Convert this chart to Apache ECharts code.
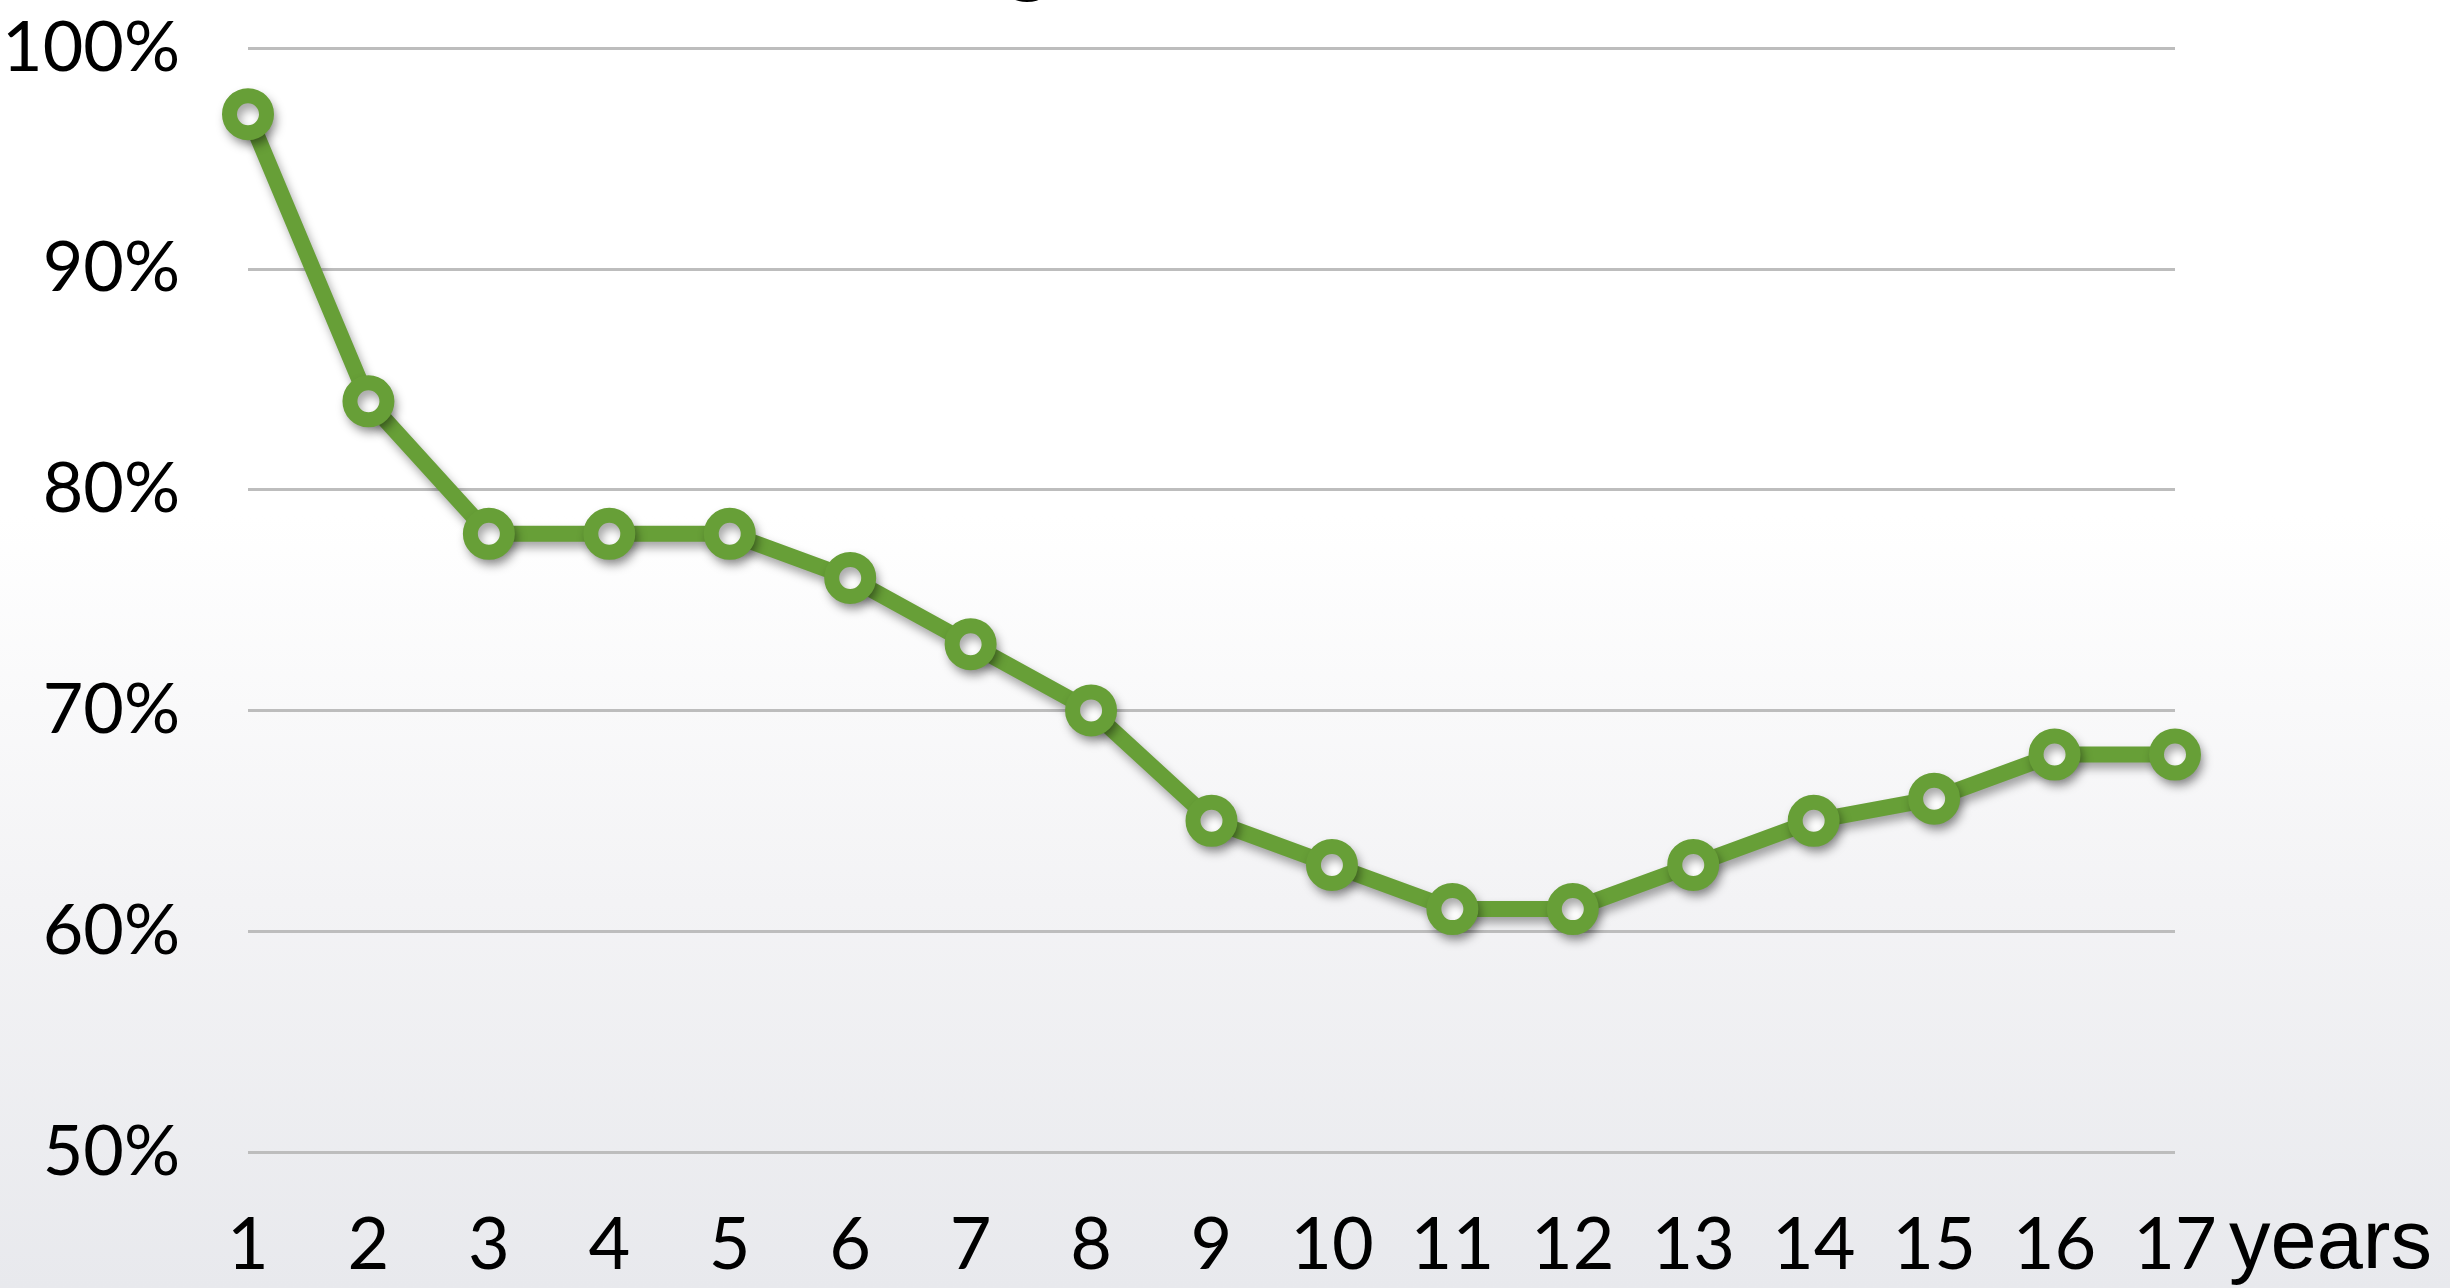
<!DOCTYPE html>
<html>
<head>
<meta charset="utf-8">
<script src="https://cdn.jsdelivr.net/npm/echarts@6/dist/echarts.min.js"></script>
<style>
  html, body { margin: 0; padding: 0; }
  #chart {
    width: 2450px;
    height: 1288px;
    background: linear-gradient(to bottom, #ffffff 0%, #ffffff 40%, #f3f3f5 70%, #e8e9ed 100%);
  }
</style>
</head>
<body>
<div id="chart"></div>
<script>
// years 1..17
const years = ['1', '2', '3', '4', '5', '6', '7', '8', '9', '10', '11', '12', '13', '14', '15', '16', '17'];
// percentage per year
const values = [97, 84, 78, 78, 78, 76, 73, 70, 65, 63, 61, 61, 63, 65, 66, 68, 68];
const yTicks = [50, 60, 70, 80, 90, 100];

const green = '#679f37';
const numFont = 'Lato';

const chart = echarts.init(document.getElementById('chart'), null, { renderer: 'canvas' });

chart.setOption({
  backgroundColor: 'transparent',
  animation: false,
  // the title sits above the picture, only the tail of its "g" shows
  graphic: [{
    type: 'text',
    left: 1000,
    top: -88,
    style: { text: 'g', fontFamily: 'Liberation Sans', fontWeight: 'bold', fontSize: 92, fill: '#000' }
  }],
  grid: { left: 248, right: 275, top: 48, bottom: 136, outerBoundsMode: 'none' },
  xAxis: {
    type: 'category',
    data: years,
    boundaryGap: false,
    axisLine: { show: false },
    axisTick: { show: false },
    axisLabel: {
      margin: 58,
      color: '#000',
      fontFamily: numFont,
      fontSize: 72,
      interval: 0
    },
    name: 'years',
    nameLocation: 'end',
    nameGap: 40,
    nameTextStyle: {
      color: '#000',
      fontFamily: 'Liberation Sans',
      fontSize: 83,
      align: 'left',
      verticalAlign: 'top',
      padding: [52, 0, 0, 14]
    }
  },
  yAxis: {
    type: 'value',
    min: yTicks[0],
    max: yTicks[yTicks.length - 1],
    interval: 10,
    axisLine: { show: false },
    axisTick: { show: false },
    axisLabel: {
      margin: 68,
      color: '#000',
      fontFamily: numFont,
      fontSize: 70,
      formatter: v => v + '%'
    },
    splitLine: { lineStyle: { color: '#bdbdbd', width: 3 } }
  },
  series: [{
    type: 'line',
    data: values,
    symbol: 'circle',
    symbolSize: 37,
    lineStyle: {
      color: green,
      width: 16,
      shadowColor: 'rgba(0,0,0,0.35)',
      shadowBlur: 10,
      shadowOffsetX: 3,
      shadowOffsetY: 6
    },
    itemStyle: {
      color: '#ffffff',
      borderColor: green,
      borderWidth: 15,
      shadowColor: 'rgba(0,0,0,0.35)',
      shadowBlur: 10,
      shadowOffsetX: 3,
      shadowOffsetY: 6
    },
    emphasis: { disabled: true }
  }]
});
</script>
</body>
</html>
